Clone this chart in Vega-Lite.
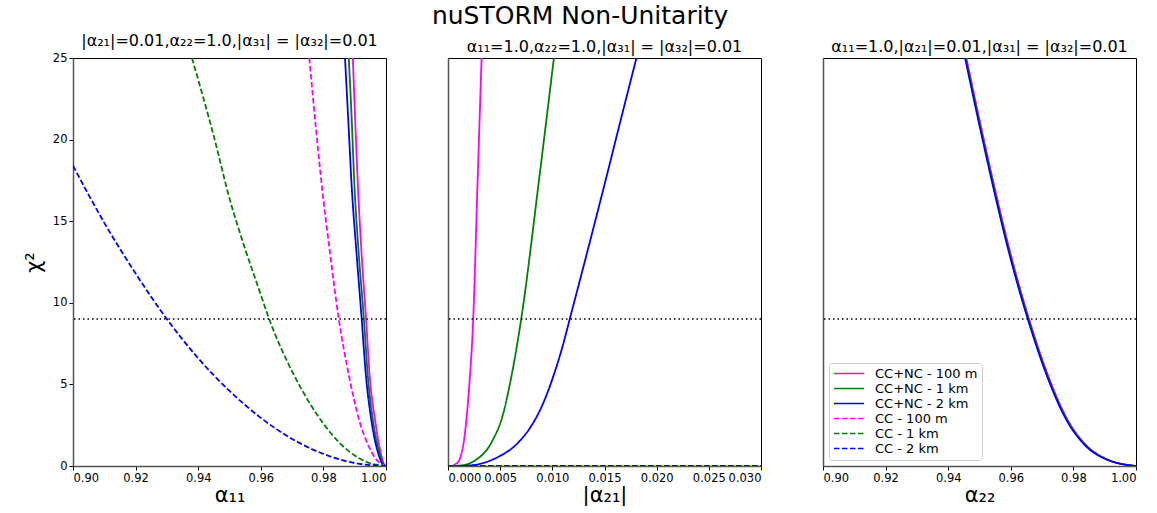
{
  "$schema": "https://vega.github.io/schema/vega-lite/v6.json",
  "padding": {"left": 22, "top": 3, "right": 10, "bottom": 0},
  "background": "white",
  "title": {"text": "nuSTORM Non-Unitarity", "fontSize": 25, "font": "DejaVu Sans", "fontWeight": "normal", "anchor": "middle", "offset": 4, "color": "black"},
  "datasets": {
    "p1": [
      {"a": 0.9894, "chi2": 25, "s": "CC+NC - 100 m"},
      {"a": 0.9902, "chi2": 21, "s": "CC+NC - 100 m"},
      {"a": 0.9910, "chi2": 17.26, "s": "CC+NC - 100 m"},
      {"a": 0.9922, "chi2": 13, "s": "CC+NC - 100 m"},
      {"a": 0.9936, "chi2": 9.09, "s": "CC+NC - 100 m"},
      {"a": 0.9948, "chi2": 5.5, "s": "CC+NC - 100 m"},
      {"a": 0.9964, "chi2": 2.96, "s": "CC+NC - 100 m"},
      {"a": 0.9982, "chi2": 0.92, "s": "CC+NC - 100 m"},
      {"a": 0.9994, "chi2": 0.1, "s": "CC+NC - 100 m"},
      {"a": 1.0, "chi2": 0, "s": "CC+NC - 100 m"},
      {"a": 0.9881, "chi2": 25, "s": "CC+NC - 1 km"},
      {"a": 0.9891, "chi2": 21, "s": "CC+NC - 1 km"},
      {"a": 0.9899, "chi2": 17.26, "s": "CC+NC - 1 km"},
      {"a": 0.9913, "chi2": 13, "s": "CC+NC - 1 km"},
      {"a": 0.9929, "chi2": 9.09, "s": "CC+NC - 1 km"},
      {"a": 0.9942, "chi2": 5.5, "s": "CC+NC - 1 km"},
      {"a": 0.9957, "chi2": 2.96, "s": "CC+NC - 1 km"},
      {"a": 0.9978, "chi2": 0.92, "s": "CC+NC - 1 km"},
      {"a": 0.9992, "chi2": 0.1, "s": "CC+NC - 1 km"},
      {"a": 1.0, "chi2": 0, "s": "CC+NC - 1 km"},
      {"a": 0.9869, "chi2": 25, "s": "CC+NC - 2 km"},
      {"a": 0.9880, "chi2": 21, "s": "CC+NC - 2 km"},
      {"a": 0.9890, "chi2": 17.26, "s": "CC+NC - 2 km"},
      {"a": 0.9906, "chi2": 13, "s": "CC+NC - 2 km"},
      {"a": 0.9922, "chi2": 9.09, "s": "CC+NC - 2 km"},
      {"a": 0.9936, "chi2": 5.5, "s": "CC+NC - 2 km"},
      {"a": 0.9952, "chi2": 2.96, "s": "CC+NC - 2 km"},
      {"a": 0.9973, "chi2": 0.92, "s": "CC+NC - 2 km"},
      {"a": 0.9990, "chi2": 0.1, "s": "CC+NC - 2 km"},
      {"a": 1.0, "chi2": 0, "s": "CC+NC - 2 km"},
      {"a": 0.9755, "chi2": 25, "s": "CC - 100 m"},
      {"a": 0.9776, "chi2": 20.73, "s": "CC - 100 m"},
      {"a": 0.9798, "chi2": 16.65, "s": "CC - 100 m"},
      {"a": 0.9819, "chi2": 13.38, "s": "CC - 100 m"},
      {"a": 0.9849, "chi2": 9.03, "s": "CC - 100 m"},
      {"a": 0.9883, "chi2": 5.41, "s": "CC - 100 m"},
      {"a": 0.9915, "chi2": 2.76, "s": "CC - 100 m"},
      {"a": 0.9947, "chi2": 1.12, "s": "CC - 100 m"},
      {"a": 0.9973, "chi2": 0.31, "s": "CC - 100 m"},
      {"a": 1.0, "chi2": 0, "s": "CC - 100 m"},
      {"a": 0.938, "chi2": 25.0, "s": "CC - 1 km"},
      {"a": 0.945, "chi2": 20.2, "s": "CC - 1 km"},
      {"a": 0.950, "chi2": 16.4, "s": "CC - 1 km"},
      {"a": 0.955, "chi2": 13.3, "s": "CC - 1 km"},
      {"a": 0.960, "chi2": 10.5, "s": "CC - 1 km"},
      {"a": 0.9625, "chi2": 9.1, "s": "CC - 1 km"},
      {"a": 0.970, "chi2": 5.8, "s": "CC - 1 km"},
      {"a": 0.975, "chi2": 4.05, "s": "CC - 1 km"},
      {"a": 0.980, "chi2": 2.6, "s": "CC - 1 km"},
      {"a": 0.985, "chi2": 1.45, "s": "CC - 1 km"},
      {"a": 0.990, "chi2": 0.64, "s": "CC - 1 km"},
      {"a": 0.995, "chi2": 0.16, "s": "CC - 1 km"},
      {"a": 1.0, "chi2": 0, "s": "CC - 1 km"},
      {"a": 0.90, "chi2": 18.4, "s": "CC - 2 km"},
      {"a": 0.91, "chi2": 14.9, "s": "CC - 2 km"},
      {"a": 0.92, "chi2": 11.8, "s": "CC - 2 km"},
      {"a": 0.93, "chi2": 9.0, "s": "CC - 2 km"},
      {"a": 0.94, "chi2": 6.6, "s": "CC - 2 km"},
      {"a": 0.95, "chi2": 4.6, "s": "CC - 2 km"},
      {"a": 0.96, "chi2": 2.95, "s": "CC - 2 km"},
      {"a": 0.97, "chi2": 1.66, "s": "CC - 2 km"},
      {"a": 0.98, "chi2": 0.74, "s": "CC - 2 km"},
      {"a": 0.99, "chi2": 0.18, "s": "CC - 2 km"},
      {"a": 1.0, "chi2": 0, "s": "CC - 2 km"}
    ],
    "p2": [
      {"a": 0, "chi2": 0, "s": "CC+NC - 100 m"},
      {"a": 0.0004, "chi2": 0.01, "s": "CC+NC - 100 m"},
      {"a": 0.00067, "chi2": 0.1, "s": "CC+NC - 100 m"},
      {"a": 0.00105, "chi2": 0.32, "s": "CC+NC - 100 m"},
      {"a": 0.0013, "chi2": 0.78, "s": "CC+NC - 100 m"},
      {"a": 0.00153, "chi2": 1.55, "s": "CC+NC - 100 m"},
      {"a": 0.00175, "chi2": 2.75, "s": "CC+NC - 100 m"},
      {"a": 0.00207, "chi2": 5.2, "s": "CC+NC - 100 m"},
      {"a": 0.00242, "chi2": 9.03, "s": "CC+NC - 100 m"},
      {"a": 0.00281, "chi2": 16.9, "s": "CC+NC - 100 m"},
      {"a": 0.00322, "chi2": 25, "s": "CC+NC - 100 m"},
      {"a": 0, "chi2": 0, "s": "CC+NC - 1 km"},
      {"a": 0.001, "chi2": 0.02, "s": "CC+NC - 1 km"},
      {"a": 0.0018, "chi2": 0.1, "s": "CC+NC - 1 km"},
      {"a": 0.00249, "chi2": 0.3, "s": "CC+NC - 1 km"},
      {"a": 0.00424, "chi2": 1.53, "s": "CC+NC - 1 km"},
      {"a": 0.0052, "chi2": 3.0, "s": "CC+NC - 1 km"},
      {"a": 0.00599, "chi2": 5.2, "s": "CC+NC - 1 km"},
      {"a": 0.00702, "chi2": 9.03, "s": "CC+NC - 1 km"},
      {"a": 0.00871, "chi2": 17.45, "s": "CC+NC - 1 km"},
      {"a": 0.00941, "chi2": 21.1, "s": "CC+NC - 1 km"},
      {"a": 0.01015, "chi2": 25, "s": "CC+NC - 1 km"},
      {"a": 0, "chi2": 0, "s": "CC+NC - 2 km"},
      {"a": 0.001, "chi2": 0.005, "s": "CC+NC - 2 km"},
      {"a": 0.002, "chi2": 0.03, "s": "CC+NC - 2 km"},
      {"a": 0.003, "chi2": 0.12, "s": "CC+NC - 2 km"},
      {"a": 0.004, "chi2": 0.32, "s": "CC+NC - 2 km"},
      {"a": 0.005, "chi2": 0.62, "s": "CC+NC - 2 km"},
      {"a": 0.006, "chi2": 1.02, "s": "CC+NC - 2 km"},
      {"a": 0.007, "chi2": 1.62, "s": "CC+NC - 2 km"},
      {"a": 0.008, "chi2": 2.47, "s": "CC+NC - 2 km"},
      {"a": 0.009, "chi2": 3.67, "s": "CC+NC - 2 km"},
      {"a": 0.010, "chi2": 5.32, "s": "CC+NC - 2 km"},
      {"a": 0.011, "chi2": 7.37, "s": "CC+NC - 2 km"},
      {"a": 0.01168, "chi2": 9.03, "s": "CC+NC - 2 km"},
      {"a": 0.0135, "chi2": 13.49, "s": "CC+NC - 2 km"},
      {"a": 0.015, "chi2": 17.24, "s": "CC+NC - 2 km"},
      {"a": 0.0166, "chi2": 21.32, "s": "CC+NC - 2 km"},
      {"a": 0.01806, "chi2": 25, "s": "CC+NC - 2 km"},
      {"a": 0, "chi2": 0, "s": "CC - 100 m"},
      {"a": 0.03, "chi2": 0, "s": "CC - 100 m"},
      {"a": 0, "chi2": 0, "s": "CC - 1 km"},
      {"a": 0.03, "chi2": 0, "s": "CC - 1 km"},
      {"a": 0, "chi2": 0, "s": "CC - 2 km"},
      {"a": 0.03, "chi2": 0, "s": "CC - 2 km"}
    ],
    "p3": [
      {"a": 0.9458, "chi2": 25, "s": "CC+NC - 100 m"},
      {"a": 0.9503, "chi2": 20.95, "s": "CC+NC - 100 m"},
      {"a": 0.9546, "chi2": 17.25, "s": "CC+NC - 100 m"},
      {"a": 0.9596, "chi2": 13.25, "s": "CC+NC - 100 m"},
      {"a": 0.9660, "chi2": 8.9, "s": "CC+NC - 100 m"},
      {"a": 0.9726, "chi2": 5.2, "s": "CC+NC - 100 m"},
      {"a": 0.9779, "chi2": 2.92, "s": "CC+NC - 100 m"},
      {"a": 0.9838, "chi2": 1.33, "s": "CC+NC - 100 m"},
      {"a": 0.9907, "chi2": 0.42, "s": "CC+NC - 100 m"},
      {"a": 1.0, "chi2": 0, "s": "CC+NC - 100 m"},
      {"a": 0.9456, "chi2": 25, "s": "CC+NC - 1 km"},
      {"a": 0.9501, "chi2": 20.95, "s": "CC+NC - 1 km"},
      {"a": 0.9544, "chi2": 17.25, "s": "CC+NC - 1 km"},
      {"a": 0.9594, "chi2": 13.25, "s": "CC+NC - 1 km"},
      {"a": 0.9658, "chi2": 8.9, "s": "CC+NC - 1 km"},
      {"a": 0.9724, "chi2": 5.2, "s": "CC+NC - 1 km"},
      {"a": 0.9777, "chi2": 2.92, "s": "CC+NC - 1 km"},
      {"a": 0.9836, "chi2": 1.33, "s": "CC+NC - 1 km"},
      {"a": 0.9905, "chi2": 0.42, "s": "CC+NC - 1 km"},
      {"a": 1.0, "chi2": 0, "s": "CC+NC - 1 km"},
      {"a": 0.9454, "chi2": 25, "s": "CC+NC - 2 km"},
      {"a": 0.9499, "chi2": 20.95, "s": "CC+NC - 2 km"},
      {"a": 0.9542, "chi2": 17.25, "s": "CC+NC - 2 km"},
      {"a": 0.9592, "chi2": 13.25, "s": "CC+NC - 2 km"},
      {"a": 0.9656, "chi2": 8.9, "s": "CC+NC - 2 km"},
      {"a": 0.9722, "chi2": 5.2, "s": "CC+NC - 2 km"},
      {"a": 0.9775, "chi2": 2.92, "s": "CC+NC - 2 km"},
      {"a": 0.9834, "chi2": 1.33, "s": "CC+NC - 2 km"},
      {"a": 0.9904, "chi2": 0.42, "s": "CC+NC - 2 km"},
      {"a": 1.0, "chi2": 0, "s": "CC+NC - 2 km"}
    ],
    "level": [{"chi2": 9}]
  },
  "hconcat": [
    {
      "width": 313, "height": 408,
      "title": {"text": "|α₂₁|=0.01,α₂₂=1.0,|α₃₁| = |α₃₂|=0.01"},
      "layer": [
        {
          "data": {"name": "p1"},
          "mark": {"type": "line", "clip": true, "strokeWidth": 1.8, "interpolate": "monotone"},
          "encoding": {
            "x": {"field": "a", "type": "quantitative", "scale": {"domain": [0.9, 1.0], "nice": false, "zero": false}, "axis": {"values": [0.9, 0.92, 0.94, 0.96, 0.98, 1.0], "format": ".2f", "title": "α₁₁"}},
            "y": {"field": "chi2", "type": "quantitative", "scale": {"domain": [0, 25], "nice": false}, "axis": {"values": [0, 5, 10, 15, 20, 25], "title": "χ²", "titlePadding": 8}},
            "color": {"field": "s", "type": "nominal", "scale": {"domain": ["CC+NC - 100 m", "CC+NC - 1 km", "CC+NC - 2 km", "CC - 100 m", "CC - 1 km", "CC - 2 km"], "range": ["#ff00ff", "#008000", "#0000ff", "#ff00ff", "#008000", "#0000ff"]}, "legend": null},
            "strokeDash": {"field": "s", "type": "nominal", "scale": {"domain": ["CC+NC - 100 m", "CC+NC - 1 km", "CC+NC - 2 km", "CC - 100 m", "CC - 1 km", "CC - 2 km"], "range": [[1, 0], [1, 0], [1, 0], [5.5, 2.5], [5.5, 2.5], [5.5, 2.5]]}, "legend": null}
          }
        },
        {
          "data": {"name": "level"},
          "mark": {"type": "rule", "color": "black", "strokeDash": [1.5, 3], "strokeWidth": 1.5},
          "encoding": {"y": {"field": "chi2", "type": "quantitative"}}
        }
      ]
    },
    {
      "width": 313, "height": 408,
      "title": {"text": "α₁₁=1.0,α₂₂=1.0,|α₃₁| = |α₃₂|=0.01"},
      "layer": [
        {
          "data": {"name": "p2"},
          "mark": {"type": "line", "clip": true, "strokeWidth": 1.8, "interpolate": "monotone"},
          "encoding": {
            "x": {"field": "a", "type": "quantitative", "scale": {"domain": [0, 0.03], "nice": false, "zero": false}, "axis": {"values": [0, 0.005, 0.01, 0.015, 0.02, 0.025, 0.03], "format": ".3f", "title": "|α₂₁|"}},
            "y": {"field": "chi2", "type": "quantitative", "scale": {"domain": [0, 25], "nice": false}, "axis": {"labels": false, "ticks": false, "title": null}},
            "color": {"field": "s", "type": "nominal", "scale": {"domain": ["CC+NC - 100 m", "CC+NC - 1 km", "CC+NC - 2 km", "CC - 100 m", "CC - 1 km", "CC - 2 km"], "range": ["#ff00ff", "#008000", "#0000ff", "#ff00ff", "#008000", "#0000ff"]}, "legend": null},
            "strokeDash": {"field": "s", "type": "nominal", "scale": {"domain": ["CC+NC - 100 m", "CC+NC - 1 km", "CC+NC - 2 km", "CC - 100 m", "CC - 1 km", "CC - 2 km"], "range": [[1, 0], [1, 0], [1, 0], [5.5, 2.5], [5.5, 2.5], [5.5, 2.5]]}, "legend": null}
          }
        },
        {
          "data": {"name": "level"},
          "mark": {"type": "rule", "color": "black", "strokeDash": [1.5, 3], "strokeWidth": 1.5},
          "encoding": {"y": {"field": "chi2", "type": "quantitative"}}
        }
      ]
    },
    {
      "width": 313, "height": 408,
      "title": {"text": "α₁₁=1.0,|α₂₁|=0.01,|α₃₁| = |α₃₂|=0.01"},
      "layer": [
        {
          "data": {"name": "p3"},
          "mark": {"type": "line", "clip": true, "strokeWidth": 1.8, "interpolate": "monotone"},
          "encoding": {
            "x": {"field": "a", "type": "quantitative", "scale": {"domain": [0.9, 1.0], "nice": false, "zero": false}, "axis": {"values": [0.9, 0.92, 0.94, 0.96, 0.98, 1.0], "format": ".2f", "title": "α₂₂"}},
            "y": {"field": "chi2", "type": "quantitative", "scale": {"domain": [0, 25], "nice": false}, "axis": {"labels": false, "ticks": false, "title": null}},
            "color": {"field": "s", "type": "nominal", "scale": {"domain": ["CC+NC - 100 m", "CC+NC - 1 km", "CC+NC - 2 km", "CC - 100 m", "CC - 1 km", "CC - 2 km"], "range": ["#ff00ff", "#008000", "#0000ff", "#ff00ff", "#008000", "#0000ff"]}, "legend": {"title": null, "orient": "bottom-left"}},
            "strokeDash": {"field": "s", "type": "nominal", "scale": {"domain": ["CC+NC - 100 m", "CC+NC - 1 km", "CC+NC - 2 km", "CC - 100 m", "CC - 1 km", "CC - 2 km"], "range": [[1, 0], [1, 0], [1, 0], [5.5, 2.5], [5.5, 2.5], [5.5, 2.5]]}, "legend": {"title": null, "orient": "bottom-left"}}
          }
        },
        {
          "data": {"name": "level"},
          "mark": {"type": "rule", "color": "black", "strokeDash": [1.5, 3], "strokeWidth": 1.5},
          "encoding": {"y": {"field": "chi2", "type": "quantitative"}}
        }
      ]
    }
  ],
  "spacing": 62,
  "bounds": "flush",
  "resolve": {"scale": {"color": "independent", "strokeDash": "independent", "x": "independent", "y": "independent"}, "legend": {"color": "independent", "strokeDash": "independent"}},
  "config": {
    "font": "DejaVu Sans",
    "view": {"stroke": "black", "strokeWidth": 1},
    "title": {"fontSize": 16, "fontWeight": "normal", "font": "DejaVu Sans", "offset": 3, "color": "black"},
    "axis": {"grid": false, "labelFont": "DejaVu Sans", "labelFontSize": 11.5, "labelColor": "black", "tickColor": "black", "tickSize": 4, "labelPadding": 2, "domainColor": "#555", "domainWidth": 1.5, "titleFont": "DejaVu Sans", "titleFontSize": 21, "titleFontWeight": "normal", "titleColor": "black", "titlePadding": 1},
    "legend": {"labelFont": "DejaVu Sans", "labelFontSize": 13, "labelColor": "black", "strokeColor": "#cccccc", "fillColor": "white", "cornerRadius": 3, "padding": 4, "offset": 6, "symbolStrokeWidth": 1.5, "symbolSize": 900, "clipHeight": 13, "rowPadding": 1, "labelOffset": 10}
  }
}
